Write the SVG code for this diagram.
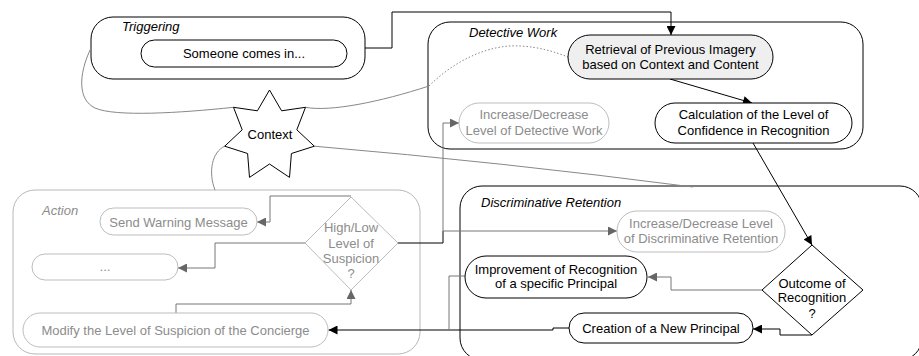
<svg xmlns="http://www.w3.org/2000/svg" width="919" height="356" viewBox="0 0 919 356">
<style>
text{font-family:"Liberation Sans",Arial,sans-serif;font-size:13px;text-anchor:middle}
.title{font-style:italic;text-anchor:start}
.grp{fill:#fff;stroke:#000;stroke-width:1}
.grpg{fill:#fff;stroke:#b8b8b8;stroke-width:1}
.node{fill:#fff;stroke:#000;stroke-width:1}
.nodeg{fill:#fff;stroke:#bdbdbd;stroke-width:1}
.g{fill:#8c8c8c}
.c{fill:none;stroke:#000;stroke-width:1}
.cg{fill:none;stroke:#777;stroke-width:1}
.cur{fill:none;stroke:#888;stroke-width:1}
</style>
<defs>
<marker id="ab" viewBox="0 0 10 10" refX="10" refY="5" markerWidth="10" markerHeight="9" orient="auto" markerUnits="userSpaceOnUse"><path d="M0,0 L10,5 L0,10 z" fill="#000"/></marker>
<marker id="ag" viewBox="0 0 10 10" refX="10" refY="5" markerWidth="10" markerHeight="9" orient="auto" markerUnits="userSpaceOnUse"><path d="M0,0 L10,5 L0,10 z" fill="#666"/></marker>
</defs>

<g id="group-triggering">
<rect class="grp" x="91" y="17" width="274" height="62" rx="22"/>
<text class="title" x="122" y="31">Triggering</text>
</g>
<g id="group-detective">
<rect class="grp" x="428" y="22" width="435" height="127" rx="22"/>
<text class="title" x="469" y="37">Detective Work</text>
</g>
<g id="group-action">
<rect class="grpg" x="13" y="190" width="407" height="164" rx="22"/>
<text class="title g" x="42" y="215">Action</text>
</g>
<g id="group-discriminative">
<rect class="grp" x="460" y="186" width="462" height="174" rx="22"/>
<text class="title" x="481" y="207">Discriminative Retention</text>
</g>

<g id="connectors">
<path class="cur" d="M91,48 C78,75 78,100 95,108 C115,117 180,113 233.5,107.3"/>
<path class="cur" d="M305.5,107.3 C330,112 380,102 429,86"/>
<path class="cur" d="M429,86 C455,60 490,44 520,46 C540,47 555,52 568,57" stroke-dasharray="1.5,2"/>
<path class="cur" d="M314.3,146.2 Q500,162 693,187"/>
<path class="cur" d="M224.7,146.2 C212,152 208,172 215,190"/>

<path class="c" d="M365,48 H392 V12 H671 V35" marker-end="url(#ab)"/>
<path class="c" d="M670,79 L752,103" marker-end="url(#ab)"/>
<path class="c" d="M753,143 L812,245" marker-end="url(#ab)"/>
<path class="cg" d="M762,290 H671 V277 H648" marker-end="url(#ag)"/>
<path class="c" d="M812,335 H780 V329 H753" marker-end="url(#ab)"/>
<path class="c" d="M569,328 H553 V330 H328.5" marker-end="url(#ab)" stroke="#222"/>
<path class="cg" d="M465,276 H449 V330"/>
<path class="c" d="M398,243 H443 V231" stroke="#333"/>
<path class="cg" d="M443,231 V123 H459" marker-end="url(#ag)"/>
<path class="cg" d="M443,231 H617" marker-end="url(#ag)"/>
<path class="cg" d="M351,196 H270 V222 H257" marker-end="url(#ag)"/>
<path class="cg" d="M305,243 H215 V268 H178" marker-end="url(#ag)"/>
<path class="cg" d="M176,313 V304 H351 V290" marker-end="url(#ag)"/>
</g>

<g id="node-someone">
<rect class="node" x="141" y="40" width="206" height="27" rx="13.5"/>
<text x="244" y="58">Someone comes in...</text>
</g>
<g id="node-context">
<polygon class="node" points="269.5,90 281.6,110.8 305.5,107.3 296.8,129.8 314.3,146.2 291.4,153.5 289.5,177.4 269.5,164 249.5,177.4 247.6,153.5 224.7,146.2 242.2,129.8 233.5,107.3 257.4,110.8"/>
<text x="270" y="139">Context</text>
</g>
<g id="node-retrieval">
<rect class="node" x="568" y="35" width="205" height="44" rx="22" fill="#efefef" style="fill:#efefef"/>
<text x="670.5" y="53.5">Retrieval of Previous Imagery</text>
<text x="670.5" y="68.5">based on Context and Content</text>
</g>
<g id="node-incdec-dw">
<rect class="nodeg" x="459" y="103" width="150" height="40" rx="20"/>
<text class="g" x="534" y="118.5">Increase/Decrease</text>
<text class="g" x="534" y="134.5">Level of Detective Work</text>
</g>
<g id="node-calculation">
<rect class="node" x="655" y="103" width="197" height="40" rx="20"/>
<text x="753.5" y="118.5">Calculation of the Level of</text>
<text x="753.5" y="134.5">Confidence in Recognition</text>
</g>
<g id="node-send">
<rect class="nodeg" x="100" y="208" width="157" height="27" rx="13.5"/>
<text class="g" x="178.5" y="226.5">Send Warning Message</text>
</g>
<g id="node-dots">
<rect class="nodeg" x="32" y="254" width="146" height="26" rx="13"/>
<text class="g" x="105" y="271">...</text>
</g>
<g id="node-modify">
<rect class="nodeg" x="23" y="313" width="305" height="34" rx="17"/>
<text class="g" x="175.5" y="334.5">Modify the Level of Suspicion of the Concierge</text>
</g>
<g id="node-highlow">
<polygon class="nodeg" points="351,197 398,243 351,290 305,243"/>
<text class="g" x="351" y="231.5">High/Low</text>
<text class="g" x="351" y="247.5">Level of</text>
<text class="g" x="351" y="262.5">Suspicion</text>
<text class="g" x="351" y="277.5">?</text>
</g>
<g id="node-incdec-dr">
<rect class="nodeg" x="617" y="211" width="168" height="41" rx="20"/>
<text class="g" x="701" y="227.5">Increase/Decrease Level</text>
<text class="g" x="701" y="242.5">of Discriminative Retention</text>
</g>
<g id="node-improvement">
<rect class="node" x="465" y="256" width="182" height="42" rx="21"/>
<text x="556" y="273.5">Improvement of Recognition</text>
<text x="556" y="287.5">of a specific Principal</text>
</g>
<g id="node-outcome">
<polygon class="node" points="812,245 863,290 812,335 762,290"/>
<text x="812" y="287.5">Outcome of</text>
<text x="812" y="301.5">Recognition</text>
<text x="812" y="317.5">?</text>
</g>
<g id="node-creation">
<rect class="node" x="569" y="313" width="184" height="30" rx="15"/>
<text x="661" y="332.5">Creation of a New Principal</text>
</g>
</svg>
